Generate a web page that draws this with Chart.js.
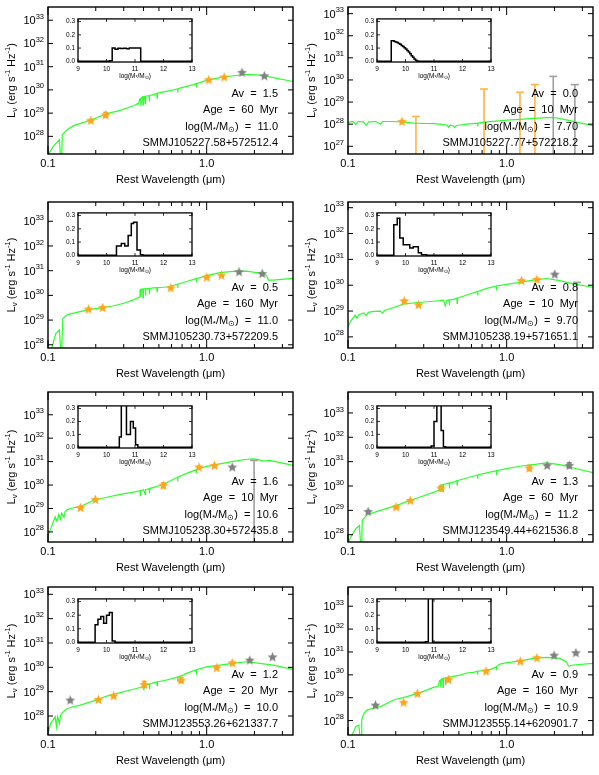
<!DOCTYPE html>
<html>
<head>
<meta charset="utf-8">
<script src="https://cdn.jsdelivr.net/npm/chart.js@4.4.0/dist/chart.umd.min.js"></script>
<style>
  html, body { margin: 0; padding: 0; background: #fff; }
  #page { position: relative; width: 599px; height: 775px; overflow: hidden; }
  #page canvas { position: absolute; }
</style>
</head>
<body>
<div id="page"></div>
<script>
// ---- data (wavelength in micron, log10 L_nu) ----
const xLabelVals = [0.1, 1.0];
const xMinorVals = [0.2, 0.3, 0.4, 0.5, 0.6, 0.7, 0.8, 0.9, 2, 3];
const histXTicks = [9, 10, 11, 12, 13];
const histYTicks = [0.0, 0.1, 0.2, 0.3];

const avVals   = ['1.5', '0.0', '0.5', '0.8', '1.6', '1.3', '1.2', '0.9'];
const ageVals  = ['60', '10', '160', '10', '10', '60', '20', '160'];
const massVals = ['11.0', '7.70', '11.0', '9.70', '10.6', '11.2', '10.0', '10.9'];
const names = ['SMMJ105227.58+572512.4', 'SMMJ105227.77+572218.2', 'SMMJ105230.73+572209.5', 'SMMJ105238.19+571651.1',
               'SMMJ105238.30+572435.8', 'SMMJ123549.44+621536.8', 'SMMJ123553.26+621337.7', 'SMMJ123555.14+620901.7'];
// y-axis range of each panel, log10 L
const yLogMin = [27.24, 26.65, 27.87, 27.57, 27.57, 27.70, 27.22, 27.37];
const yLogMax = [33.57, 33.30, 33.78, 33.22, 33.97, 33.86, 33.30, 33.84];

// panel 1
const sedWave1 = [0.100,0.108,0.118,0.120,0.122,0.123,0.132,0.145,0.168,0.194,0.235,0.285,0.346,0.367,0.372,0.378,0.383,0.385,0.387,0.395,0.397,0.399,0.405,0.410,0.412,0.434,0.436,0.438,0.462,0.486,0.487,0.489,0.500,0.560,0.656,0.657,0.659,0.679,0.824,0.860,0.862,0.864,1.00,1.21,1.47,1.79,2.16,2.63,3.51];
const sedLogL1 = [27.20,27.57,27.86,27.10,27.10,28.07,28.29,28.46,28.60,28.75,28.98,29.12,29.32,29.41,29.40,29.58,29.62,29.30,29.64,29.70,29.35,29.71,29.72,29.40,29.73,29.75,29.50,29.76,29.80,29.85,29.65,29.85,29.87,29.94,30.04,29.88,30.05,30.08,30.23,30.27,30.10,30.27,30.41,30.53,30.61,30.67,30.64,30.53,30.36];
const orangeWave1 = [0.186, 0.231, 1.03, 1.29];
const orangeLogL1 = [28.69, 28.93, 30.44, 30.56];
const orangeErr1  = [0, 0.1, 0, 0];
const grayWave1 = [1.67, 2.31];
const grayLogL1 = [30.76, 30.61];
const histEdges1 = [9.0, 10.1, 10.2, 10.3, 10.4, 10.5, 10.6, 10.7, 10.8, 10.9, 11.0, 11.1, 11.2, 13.0];
const histFrac1  = [0.0, 0.005, 0.100, 0.092, 0.098, 0.096, 0.098, 0.094, 0.100, 0.101, 0.101, 0.101, 0.0, 0.0];

// panel 2
const sedWave2 = [0.100,0.108,0.112,0.116,0.125,0.130,0.135,0.150,0.160,0.165,0.190,0.219,0.260,0.300,0.350,0.400,0.420,0.430,0.440,0.460,0.470,0.480,0.500,0.560,0.656,0.658,0.660,0.750,0.860,1.00,1.21,1.47,1.79,2.00,2.30,2.70,3.51];
const sedLogL2 = [28.08,28.12,27.98,28.12,28.10,27.95,28.10,28.12,28.00,28.12,28.12,28.10,28.05,28.03,28.02,27.98,27.95,27.85,27.95,27.93,27.85,27.93,27.95,28.00,28.05,27.90,28.05,28.10,28.14,28.18,28.22,28.26,28.30,28.30,28.22,28.10,27.93];
const orangeWave2 = [0.219];
const orangeLogL2 = [28.13];
const orangeErr2  = [0];
const grayWave2 = [];
const grayLogL2 = [];
const limWave2  = [0.268, 0.720, 1.213, 1.506, 1.966, 2.69];
const limLogL2  = [28.35, 29.59, 29.44, 29.79, 30.16, 29.79];
const limGray2  = [false, false, false, false, true, true];
const histEdges2 = [9.0, 9.5, 9.6, 9.65, 9.7, 9.75, 9.8, 9.85, 9.9, 9.95, 10.0, 10.05, 10.1, 10.15, 10.2, 10.25, 10.3, 10.35, 10.4, 10.45, 13.0];
const histFrac2  = [0.0, 0.155, 0.150, 0.146, 0.142, 0.135, 0.128, 0.120, 0.112, 0.103, 0.093, 0.082, 0.070, 0.057, 0.043, 0.030, 0.018, 0.008, 0.003, 0.0, 0.0];

// panel 3
const sedWave3 = [0.105,0.112,0.118,0.120,0.122,0.124,0.132,0.150,0.180,0.221,0.260,0.300,0.346,0.370,0.375,0.380,0.383,0.385,0.387,0.395,0.397,0.399,0.410,0.412,0.414,0.434,0.436,0.438,0.462,0.486,0.487,0.489,0.560,0.594,0.656,0.657,0.659,0.748,0.860,0.862,0.864,1.00,1.21,1.47,1.79,2.16,2.38,2.45,2.63,3.51];
const sedLogL3 = [27.80,28.45,28.60,27.80,27.80,29.05,29.21,29.30,29.42,29.50,29.58,29.68,29.82,29.90,29.93,30.22,30.24,29.95,30.25,30.26,29.90,30.26,30.27,30.00,30.27,30.28,30.05,30.28,30.30,30.31,30.15,30.31,30.34,30.37,30.45,30.30,30.45,30.56,30.68,30.52,30.68,30.80,30.92,30.97,30.98,30.90,30.82,30.62,30.62,30.69];
const orangeWave3 = [0.180, 0.221, 0.594, 1.00, 1.24];
const orangeLogL3 = [29.45, 29.51, 30.31, 30.74, 30.82];
const orangeErr3  = [0, 0, 0, 0, 0];
const grayWave3 = [1.60, 2.24];
const grayLogL3 = [30.96, 30.89];
const histEdges3 = [9.0, 10.35, 10.52, 10.64, 10.76, 10.87, 10.95, 11.07, 11.19, 11.28, 13.0];
const histFrac3  = [0.0, 0.07, 0.09, 0.07, 0.15, 0.24, 0.25, 0.04, 0.005, 0.0, 0.0];

// panel 4
const sedWave4 = [0.100,0.104,0.111,0.114,0.117,0.126,0.130,0.134,0.145,0.160,0.165,0.170,0.190,0.226,0.278,0.314,0.346,0.381,0.400,0.410,0.420,0.434,0.436,0.438,0.462,0.486,0.487,0.489,0.560,0.656,0.657,0.659,0.750,0.860,0.862,0.864,1.00,1.21,1.47,1.79,2.16,2.63,3.51];
const sedLogL4 = [28.38,28.61,28.84,28.72,28.86,28.93,28.82,28.95,28.99,29.00,28.92,29.02,29.12,29.28,29.33,29.36,29.38,29.40,29.42,29.20,29.42,29.43,29.22,29.43,29.45,29.50,29.30,29.50,29.62,29.76,29.60,29.76,29.88,29.97,29.80,29.97,30.03,30.11,30.20,30.26,30.18,30.05,29.92];
const orangeWave4 = [0.226, 0.278, 1.24, 1.55];
const orangeLogL4 = [29.40, 29.25, 30.18, 30.23];
const orangeErr4  = [0, 0, 0, 0];
const grayWave4 = [2.01];
const grayLogL4 = [30.43];
const limWave4  = [2.78];
const limLogL4  = [30.11];
const limGray4  = [true];
const histEdges4 = [9.0, 9.59, 9.71, 9.8, 9.92, 10.15, 10.27, 10.45, 10.56, 10.74, 13.0];
const histFrac4  = [0.0, 0.23, 0.28, 0.13, 0.08, 0.055, 0.065, 0.02, 0.005, 0.0, 0.0];

// panel 5
const sedWave5 = [0.100,0.104,0.111,0.114,0.117,0.120,0.122,0.126,0.128,0.132,0.145,0.160,0.194,0.235,0.285,0.346,0.380,0.382,0.384,0.400,0.410,0.412,0.420,0.434,0.436,0.438,0.462,0.509,0.533,0.560,0.617,0.656,0.657,0.659,0.748,0.860,0.862,0.864,1.00,1.21,1.47,1.79,2.00,2.30,2.50,3.51];
const sedLogL5 = [27.86,28.14,28.64,28.45,28.75,28.55,28.80,28.62,28.86,28.95,29.03,29.08,29.35,29.48,29.60,29.70,29.76,29.55,29.77,29.80,29.60,29.81,29.82,29.84,29.65,29.85,29.90,29.98,30.02,30.10,30.25,30.33,30.15,30.34,30.50,30.66,30.50,30.66,30.80,30.90,31.01,31.10,31.12,31.02,31.05,30.84];
const orangeWave5 = [0.160, 0.199, 0.533, 0.895, 1.12];
const orangeLogL5 = [29.04, 29.39, 29.99, 30.77, 30.84];
const orangeErr5  = [0, 0, 0.1, 0, 0];
const grayWave5 = [1.45];
const grayLogL5 = [30.77];
const limWave5  = [1.99];
const limLogL5  = [31.05];
const limGray5  = [true];
const histEdges5 = [9.0, 10.45, 10.52, 10.70, 10.84, 10.94, 11.02, 11.1, 13.0];
const histFrac5  = [0.0, 0.08, 0.6, 0.1, 0.2, 0.15, 0.02, 0.0, 0.0];

// panel 6
const sedWave6 = [0.100,0.104,0.112,0.118,0.120,0.122,0.123,0.132,0.160,0.194,0.235,0.285,0.346,0.372,0.380,0.383,0.385,0.387,0.395,0.397,0.399,0.434,0.436,0.438,0.462,0.486,0.487,0.489,0.560,0.656,0.657,0.659,0.750,0.860,0.862,0.864,1.00,1.21,1.47,1.79,2.16,2.63,3.51];
const sedLogL6 = [27.65,27.90,28.25,28.38,27.60,27.60,28.59,28.82,29.00,29.16,29.36,29.55,29.74,29.82,30.00,30.02,29.75,30.03,30.05,29.78,30.06,30.12,29.90,30.12,30.16,30.22,30.05,30.22,30.33,30.45,30.30,30.45,30.54,30.63,30.45,30.63,30.71,30.81,30.88,30.95,30.88,30.74,30.55];
const orangeWave6 = [0.201, 0.247, 0.386, 1.39];
const orangeLogL6 = [29.14, 29.41, 29.92, 30.74];
const orangeErr6  = [0.05, 0, 0.08, 0.1];
const grayWave6 = [0.134, 1.80, 2.48];
const grayLogL6 = [28.96, 30.85, 30.85];
const grayErr6  = [0, 0, 0.1];
const histEdges6 = [9.0, 10.9, 11.0, 11.1, 11.25, 11.33, 11.4, 13.0];
const histFrac6  = [0.0, 0.01, 0.2, 0.6, 0.13, 0.005, 0.0, 0.0];

// panel 7
const sedWave7 = [0.100,0.104,0.111,0.113,0.115,0.118,0.120,0.122,0.132,0.160,0.194,0.235,0.285,0.346,0.380,0.400,0.402,0.404,0.420,0.434,0.436,0.438,0.462,0.486,0.487,0.489,0.560,0.656,0.657,0.659,0.690,0.748,0.860,0.862,0.864,1.00,1.21,1.47,1.79,2.16,2.63,3.51];
const sedLogL7 = [27.29,27.70,27.97,27.55,27.98,27.70,28.02,28.11,28.31,28.45,28.62,28.82,28.96,29.10,29.17,29.22,29.05,29.23,29.28,29.31,29.10,29.31,29.36,29.40,29.25,29.40,29.48,29.60,29.40,29.60,29.65,29.75,29.90,29.70,29.90,30.02,30.09,30.16,30.23,30.16,30.09,29.91];
const orangeWave7 = [0.208, 0.259, 0.404, 0.69, 1.156, 1.45];
const orangeLogL7 = [28.68, 28.83, 29.30, 29.48, 29.99, 30.19];
const orangeErr7  = [0, 0, 0.12, 0.1, 0, 0];
const grayWave7 = [0.138, 1.87, 2.60];
const grayLogL7 = [28.66, 30.30, 30.43];
const histEdges7 = [9.0, 9.6, 9.7, 9.8, 9.9, 10.0, 10.1, 10.2, 10.3, 13.0];
const histFrac7  = [0.0, 0.13, 0.17, 0.19, 0.14, 0.20, 0.22, 0.01, 0.0, 0.0];

// panel 8
const sedWave8 = [0.105,0.112,0.117,0.119,0.121,0.122,0.126,0.132,0.160,0.194,0.235,0.285,0.346,0.370,0.378,0.383,0.385,0.387,0.395,0.397,0.399,0.410,0.412,0.414,0.434,0.436,0.438,0.460,0.509,0.560,0.617,0.656,0.657,0.659,0.748,0.800,0.860,0.862,0.864,0.908,1.00,1.21,1.47,1.79,2.16,2.38,2.45,2.63,3.51];
const sedLogL8 = [27.30,27.74,27.80,27.30,27.30,28.03,28.32,28.47,28.61,28.90,29.05,29.22,29.45,29.50,29.75,29.78,29.45,29.80,29.83,29.45,29.84,29.86,29.55,29.86,29.90,29.65,29.90,29.93,29.99,30.08,30.11,30.16,30.00,30.16,30.21,30.25,30.35,30.20,30.36,30.47,30.53,30.60,30.72,30.76,30.72,30.57,30.38,30.43,30.50];
const orangeWave8 = [0.224, 0.274, 0.43, 0.741, 1.22, 1.55];
const orangeLogL8 = [28.80, 29.19, 29.80, 30.17, 30.60, 30.75];
const orangeErr8  = [0, 0, 0, 0, 0, 0];
const grayWave8 = [0.149, 1.99, 2.73];
const grayLogL8 = [28.68, 30.86, 30.97];
const histEdges8 = [9.0, 10.7, 10.8, 10.95, 13.0];
const histFrac8  = [0.0, 0.005, 0.9, 0.0, 0.0];

const panels = [
  { sw: sedWave1, sl: sedLogL1, ow: orangeWave1, ol: orangeLogL1, oe: orangeErr1, gw: grayWave1, gl: grayLogL1, he: histEdges1, hf: histFrac1 },
  { sw: sedWave2, sl: sedLogL2, ow: orangeWave2, ol: orangeLogL2, oe: orangeErr2, gw: grayWave2, gl: grayLogL2, lw: limWave2, ll: limLogL2, lg: limGray2, he: histEdges2, hf: histFrac2 },
  { sw: sedWave3, sl: sedLogL3, ow: orangeWave3, ol: orangeLogL3, oe: orangeErr3, gw: grayWave3, gl: grayLogL3, he: histEdges3, hf: histFrac3 },
  { sw: sedWave4, sl: sedLogL4, ow: orangeWave4, ol: orangeLogL4, oe: orangeErr4, gw: grayWave4, gl: grayLogL4, lw: limWave4, ll: limLogL4, lg: limGray4, he: histEdges4, hf: histFrac4 },
  { sw: sedWave5, sl: sedLogL5, ow: orangeWave5, ol: orangeLogL5, oe: orangeErr5, gw: grayWave5, gl: grayLogL5, lw: limWave5, ll: limLogL5, lg: limGray5, he: histEdges5, hf: histFrac5 },
  { sw: sedWave6, sl: sedLogL6, ow: orangeWave6, ol: orangeLogL6, oe: orangeErr6, gw: grayWave6, gl: grayLogL6, ge: grayErr6, he: histEdges6, hf: histFrac6 },
  { sw: sedWave7, sl: sedLogL7, ow: orangeWave7, ol: orangeLogL7, oe: orangeErr7, gw: grayWave7, gl: grayLogL7, he: histEdges7, hf: histFrac7 },
  { sw: sedWave8, sl: sedLogL8, ow: orangeWave8, ol: orangeLogL8, oe: orangeErr8, gw: grayWave8, gl: grayLogL8, he: histEdges8, hf: histFrac8 }
];

// ---- look & layout ----
const FONT = '"Liberation Sans", Arial, sans-serif';
const ORANGE = '#ffa51c', ORANGE_LIM = '#ffb445';
const GRAY = '#808080', GRAY_LIM = '#a0a0a0';
const GREEN = '#2bff2b';

const colX = [0, 300], colW = [300, 299];
const rowY = [0, 195, 385, 580], rowH = [195, 190, 195, 195];
const frameBot = [154, 153, 157, 155];   // canvas-relative bottom of plot frame
const insetX = [78, 377];
const insetTop = [15, 209, 402, 595], insetH = [47, 47, 46, 48];

const page = document.getElementById('page');

function richText(ctx, parts, x, y, align) {
  let w = 0;
  parts.forEach(p => { ctx.font = p[1] + 'px ' + FONT; w += ctx.measureText(p[0]).width; });
  let cx = align === 'right' ? x - w : (align === 'center' ? x - w / 2 : x);
  ctx.textAlign = 'left';
  ctx.textBaseline = 'middle';
  parts.forEach(p => {
    ctx.font = p[1] + 'px ' + FONT;
    ctx.fillText(p[0], cx, y + (p[2] || 0));
    cx += ctx.measureText(p[0]).width;
  });
}

function line(ctx, x1, y1, x2, y2) {
  ctx.beginPath(); ctx.moveTo(x1, y1); ctx.lineTo(x2, y2); ctx.stroke();
}

function starImage(color, r) {
  const c = document.createElement('canvas');
  const s = Math.ceil(r * 2 + 2);
  c.width = c.height = s;
  const g = c.getContext('2d');
  g.fillStyle = color;
  g.beginPath();
  for (let k = 0; k < 10; k++) {
    const rad = k % 2 ? r * 0.45 : r;
    const a = -Math.PI / 2 + k * Math.PI / 5;
    g.lineTo(s / 2 + rad * Math.cos(a), s / 2 + 0.5 + rad * Math.sin(a));
  }
  g.closePath();
  g.fill();
  return c;
}
const starO = starImage(ORANGE, 5.2);
const starG = starImage(GRAY, 5.2);

function toPoints(wave, logl) {
  return wave.map((w, k) => ({ x: w, y: Math.pow(10, logl[k]) }));
}

function drawBars(chart, p) {
  const ctx = chart.ctx, xs = chart.scales.x, ys = chart.scales.y;
  const bottom = chart.chartArea.bottom;
  ctx.save();
  ctx.lineWidth = 1.6;
  // error bars
  const bars = (wave, logl, err, col) => {
    if (!err) return;
    ctx.strokeStyle = col;
    wave.forEach((w, k) => {
      if (!err[k]) return;
      const px = xs.getPixelForValue(w);
      const y1 = ys.getPixelForValue(Math.pow(10, logl[k] - err[k]));
      const y2 = ys.getPixelForValue(Math.pow(10, logl[k] + err[k]));
      line(ctx, px, y1, px, y2);
      line(ctx, px - 2.5, y1, px + 2.5, y1);
      line(ctx, px - 2.5, y2, px + 2.5, y2);
    });
  };
  bars(p.ow, p.ol, p.oe, ORANGE);
  bars(p.gw, p.gl, p.ge, GRAY);
  // upper limits
  if (p.lw) {
    p.lw.forEach((w, k) => {
      ctx.strokeStyle = p.lg[k] ? GRAY_LIM : ORANGE_LIM;
      const px = xs.getPixelForValue(w);
      const py = ys.getPixelForValue(Math.pow(10, p.ll[k]));
      line(ctx, px, bottom, px, py);
      line(ctx, px - 4, py, px + 4, py);
    });
  }
  ctx.restore();
}

function drawDecor(chart, i) {
  const ctx = chart.ctx, xs = chart.scales.x, ys = chart.scales.y;
  const { left, right, top, bottom } = chart.chartArea;
  ctx.save();
  ctx.strokeStyle = '#000';
  ctx.fillStyle = '#000';
  ctx.lineWidth = 1;
  xMinorVals.forEach(v => {
    const px = xs.getPixelForValue(v);
    line(ctx, px, bottom, px, bottom - 4);
    line(ctx, px, top, px, top + 4);
  });
  xLabelVals.forEach(v => {
    const px = xs.getPixelForValue(v);
    line(ctx, px, bottom, px, bottom - 8);
    line(ctx, px, top, px, top + 8);
  });
  for (let e = Math.ceil(yLogMin[i]); e <= Math.floor(yLogMax[i]); e++) {
    const py = ys.getPixelForValue(Math.pow(10, e));
    line(ctx, left, py, left + 5, py);
    line(ctx, right, py, right - 5, py);
    richText(ctx, [['10', 11], [String(e), 7.5, -4.5]], left - 4, py + 1, 'right');
  }
  ctx.lineWidth = 1.4;
  ctx.strokeRect(left, top, right - left, bottom - top);

  // y title
  ctx.save();
  ctx.translate(12, (top + bottom) / 2);
  ctx.rotate(-Math.PI / 2);
  richText(ctx, [['L', 11], ['\u03bd', 8, 3], [' (erg s', 11], ['-1', 7.5, -4], [' Hz', 11], ['-1', 7.5, -4], [')', 11]], 0, 0, 'center');
  ctx.restore();

  // annotations
  const tx = right - 15;
  richText(ctx, [['Av  =  ' + avVals[i], 11]], tx, bottom - 60, 'right');
  richText(ctx, [['Age  =  ' + ageVals[i] + '  Myr', 11]], tx, bottom - 44, 'right');
  richText(ctx, [['log(M', 11], ['*', 8, 3], ['/M', 11], ['\u2299', 7.5, 3], [')  =  ' + massVals[i], 11]], tx, bottom - 27, 'right');
  richText(ctx, [[names[i], 11]], tx, bottom - 11, 'right');
  ctx.restore();
}

function makePanel(i) {
  const p = panels[i];
  const col = i % 2, row = Math.floor(i / 2);
  const cv = document.createElement('canvas');
  cv.width = colW[col];
  cv.height = rowH[row];
  cv.style.left = colX[col] + 'px';
  cv.style.top = rowY[row] + 'px';
  page.appendChild(cv);
  const fb = frameBot[row];
  const titleFont = 11;
  const titlePad = rowH[row] - (fb + 26) - titleFont * 1.2 / 2;

  new Chart(cv, {
    type: 'line',
    data: {
      datasets: [
        { data: toPoints(p.ow, p.ol), showLine: false, pointStyle: starO, pointRadius: 5, pointHoverRadius: 5 },
        { data: toPoints(p.gw, p.gl), showLine: false, pointStyle: starG, pointRadius: 5, pointHoverRadius: 5 },
        { data: toPoints(p.sw, p.sl), borderColor: GREEN, borderWidth: 1.2, pointRadius: 0, tension: 0 }
      ]
    },
    options: {
      responsive: false,
      animation: false,
      devicePixelRatio: 1,
      events: [],
      layout: { padding: { top: 7, right: colW[col] - 293, left: 0, bottom: 0 } },
      plugins: { legend: { display: false }, tooltip: { enabled: false } },
      scales: {
        x: {
          type: 'logarithmic', min: 0.1, max: 3.5, position: 'bottom',
          grid: { display: false, drawTicks: false }, border: { display: false },
          ticks: { color: '#000', font: { family: FONT, size: 11 }, padding: 3, maxRotation: 0, autoSkip: false,
                   callback: v => Number(v).toFixed(1) },
          title: { display: true, text: 'Rest Wavelength (\u03bcm)', color: '#000',
                   font: { family: FONT, size: titleFont }, padding: { top: 0, bottom: titlePad } },
          afterBuildTicks: ax => { ax.ticks = xLabelVals.map(v => ({ value: v })); },
          afterFit: ax => { ax.height = rowH[row] - fb; }
        },
        y: {
          type: 'logarithmic', min: Math.pow(10, yLogMin[i]), max: Math.pow(10, yLogMax[i]),
          grid: { display: false, drawTicks: false }, border: { display: false },
          ticks: { display: false },
          afterFit: ax => { ax.width = 48; }
        }
      }
    },
    plugins: [{
      id: 'sedDecor',
      beforeDatasetsDraw: chart => drawBars(chart, p),
      afterDraw: chart => drawDecor(chart, i)
    }]
  });
}

function makeInset(i) {
  const p = panels[i];
  const col = i % 2, row = Math.floor(i / 2);
  const bw = 114, bh = insetH[row];
  const padL = 22, padT = 3, padR = 8, padB = 20;
  const cv = document.createElement('canvas');
  cv.width = padL + bw + padR;
  cv.height = padT + bh + padB;
  cv.style.left = (insetX[col] - padL) + 'px';
  cv.style.top = (insetTop[row] - padT) + 'px';
  page.appendChild(cv);

  new Chart(cv, {
    type: 'line',
    data: {
      datasets: [{
        // each point is a bin's left edge with that bin's fraction: hold the level until the next edge
        data: p.he.map((e, k) => ({ x: e, y: p.hf[k] })),
        stepped: 'before', borderColor: '#000', borderWidth: 1.5, pointRadius: 0
      }]
    },
    options: {
      responsive: false,
      animation: false,
      devicePixelRatio: 1,
      events: [],
      layout: { padding: { top: padT, right: padR, left: 0, bottom: 0 } },
      plugins: { legend: { display: false }, tooltip: { enabled: false } },
      scales: {
        x: {
          type: 'linear', min: 9, max: 13,
          grid: { display: false, drawTicks: false }, border: { display: false },
          ticks: { color: '#000', font: { family: FONT, size: 6.5 }, padding: 3, maxRotation: 0, autoSkip: false,
                   callback: v => String(v) },
          afterBuildTicks: ax => { ax.ticks = histXTicks.map(v => ({ value: v })); },
          afterFit: ax => { ax.height = padB; }
        },
        y: {
          min: -0.005, max: 0.32,
          grid: { display: false, drawTicks: false }, border: { display: false },
          ticks: { color: '#000', font: { family: FONT, size: 6.5 }, padding: 3,
                   callback: v => Number(v).toFixed(1) },
          afterBuildTicks: ax => { ax.ticks = histYTicks.map(v => ({ value: v })); },
          afterFit: ax => { ax.width = padL; }
        }
      }
    },
    plugins: [{
      id: 'insetDecor',
      afterDraw: chart => {
        const ctx = chart.ctx, xs = chart.scales.x, ys = chart.scales.y;
        const { left, right, top, bottom } = chart.chartArea;
        ctx.save();
        ctx.strokeStyle = '#000';
        ctx.fillStyle = '#000';
        ctx.lineWidth = 0.8;
        histXTicks.forEach(v => {
          const px = xs.getPixelForValue(v);
          line(ctx, px, bottom, px, bottom - 3);
          line(ctx, px, top, px, top + 3);
        });
        histYTicks.forEach(v => {
          const py = ys.getPixelForValue(v);
          line(ctx, left, py, left + 3, py);
          line(ctx, right, py, right - 3, py);
        });
        ctx.lineWidth = 1.3;
        ctx.strokeRect(left, top, right - left, bottom - top);
        richText(ctx, [['log(M', 6.5], ['*', 5, 1.5], ['/M', 6.5], ['\u2299', 4.5, 1.5], [')', 6.5]],
                 (left + right) / 2, bottom + 14, 'center');
        ctx.restore();
      }
    }]
  });
}

for (let i = 0; i < panels.length; i++) {
  makePanel(i);
  makeInset(i);
}
</script>
</body>
</html>
